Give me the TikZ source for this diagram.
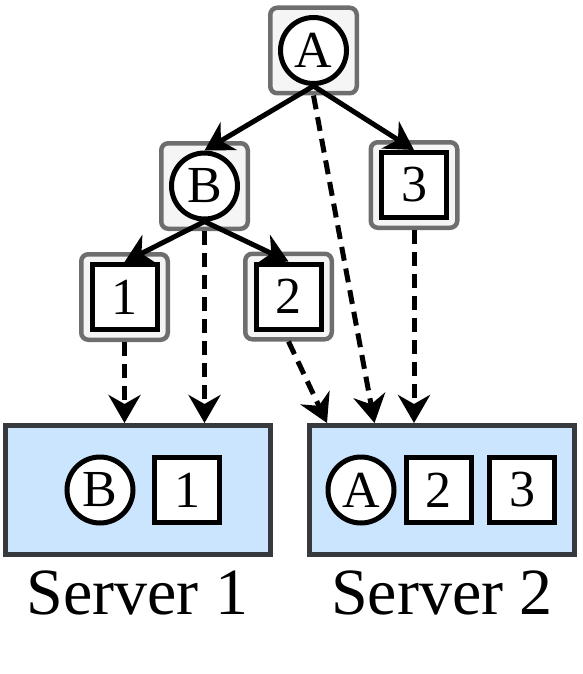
\documentclass[tikz,border=0pt]{standalone}
\usepackage{fontspec}
\setmainfont{Liberation Serif}
\usepackage{xcolor}
\usetikzlibrary{arrows.meta}
\usetikzlibrary{calc}

\definecolor{serverblue}{HTML}{CCE5FF}
\definecolor{serverline}{HTML}{36393D}
\definecolor{treefill}{HTML}{F5F5F5}
\definecolor{treeline}{HTML}{6E6E6E}

\begin{document}
\begin{tikzpicture}[x=1pt,y=-1pt,
    treebox/.style={draw=treeline,fill=treefill,line width=4.5pt,rounded corners=7pt,minimum width=86.5pt,minimum height=85.5pt,inner sep=0pt},
    keynode/.style={draw,fill=white,circle,line width=5pt,minimum size=66pt,inner sep=0pt,font=\fontsize{52}{60}\selectfont},
    leafnode/.style={draw,fill=white,rectangle,line width=5pt,minimum size=65pt,inner sep=0pt,font=\fontsize{52}{60}\selectfont},
    server/.style={draw=serverline,fill=serverblue,line width=5pt,minimum width=265pt,minimum height=129pt,inner sep=0pt},
    treearrow/.style={-{Stealth[length=28pt,width=32pt,inset=9pt]},line width=5pt},
    assign/.style={-{Stealth[length=28pt,width=32pt,inset=9pt]},line width=5pt,dash pattern=on 14pt off 8pt}]
  \useasboundingbox (0,0) rectangle (582,674);

  \node (s1) [server] at (137.5,490) {};
  \node (s2) [server] at (442,490) {};
  \node (s1B) [keynode] at (100,490) {B};
  \node (s1n1) [leafnode] at (187,490) {1};
  \node (s2A) [keynode] at (361,490) {A};
  \node (s2n2) [leafnode] at (438.5,490) {2};
  \node (s2n3) [leafnode] at (522,490) {3};
  \node (l1) [font=\fontsize{66}{72}\selectfont,anchor=base] at (137.5,614) {Server 1};
  \node (l2) [font=\fontsize{66}{72}\selectfont,anchor=base] at (442,614) {Server 2};

  \node (Abox) [treebox] at (313.5,50.5) {};
  \node (Bbox) [treebox] at (204.5,186) {};
  \node (n3box) [treebox] at (414,185) {};
  \node (n1box) [treebox] at (124.5,297) {};
  \node (n2box) [treebox] at (288.5,296.5) {};
  \node (A) [keynode] at (Abox) {A};
  \node (B) [keynode] at (Bbox) {B};
  \node (n3) [leafnode] at (n3box) {3};
  \node (n1) [leafnode] at (n1box) {1};
  \node (n2) [leafnode] at (n2box) {2};

  \path[treearrow] (A.south) edge (B.north);
  \path[treearrow] (A.south) edge (n3.north);
  \path[treearrow] (B.south) edge (n1.north);
  \path[treearrow] (B.south) edge (n2.north);

  \coordinate (s2a) at ($(s2.north west)+(67.5,0)$);
  \coordinate (s2b) at ($(s2.north west)+(20,0)$);
  \path[assign] (n1box.south) edge (n1box.south |- s1.north);
  \path[assign] (Bbox.south) edge (Bbox.south |- s1.north);
  \path[assign] (n2box.south) edge (s2b);
  \path[assign] (Abox.south) edge (s2a);
  \path[assign] (n3box.south) edge (n3box.south |- s2.north);
\end{tikzpicture}
\end{document}
